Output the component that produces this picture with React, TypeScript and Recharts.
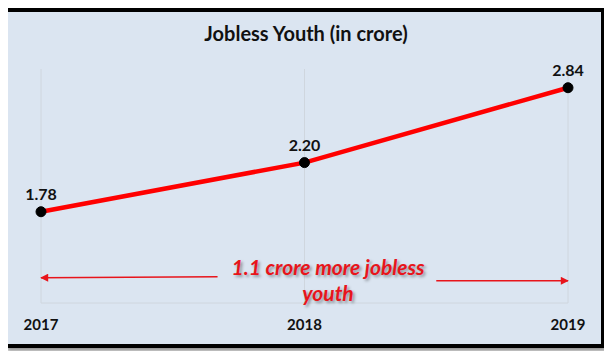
import { CartesianGrid, LabelList, Line, LineChart, ReferenceLine, XAxis, YAxis } from 'recharts'

const years = [2017, 2018, 2019]
const joblessYouth = [1.78, 2.2, 2.84]
const yDomain = [1, 3]

// arrows under the line, in data units
const leftArrow = [
  { x: 2017.67, y: 1.224 },
  { x: 2017, y: 1.216 },
]
const rightArrow = [
  { x: 2018.5, y: 1.19 },
  { x: 2019, y: 1.19 },
]

const data = years.map((year, i) => ({ year, value: joblessYouth[i] }))

const FONT = 'Lato, "Open Sans", sans-serif'

export default function App() {
  return (
    <div style={{ position: 'relative', width: 612, height: 359, margin: -8, fontFamily: FONT }}>
      <div
        style={{
          position: 'absolute',
          left: 4,
          top: 8,
          width: 601,
          height: 340,
          boxSizing: 'border-box',
          border: '4.5px solid #000',
          background: '#dbe5f1',
          boxShadow: '3px 3px 4px rgba(0,0,0,0.45)',
        }}
      />
      <div
        style={{
          position: 'absolute',
          top: 21,
          left: 0,
          width: 612,
          textAlign: 'center',
          fontWeight: 700,
          fontSize: 20,
          color: '#111',
        }}
      >
        Jobless Youth (in crore)
      </div>
      <LineChart
        width={612}
        height={359}
        data={data}
        margin={{ top: 69, right: 44, bottom: 26, left: 41 }}
        style={{ position: 'absolute', left: 0, top: 0 }}
      >
        <defs>
          <marker
            id="arrowHead"
            viewBox="0 0 10 10"
            refX="9"
            refY="5"
            markerWidth="11"
            markerHeight="8"
            markerUnits="userSpaceOnUse"
            orient="auto"
          >
            <path d="M0,0 L10,5 L0,10 z" fill="#e8141b" />
          </marker>
        </defs>
        <CartesianGrid horizontal={false} stroke="#cfd6de" />
        <XAxis
          dataKey="year"
          type="number"
          domain={[2017, 2019]}
          ticks={years}
          axisLine={{ stroke: '#cfd6de' }}
          tickLine={false}
          tickMargin={10}
          tick={{ fontSize: 15, fontWeight: 700, fill: '#111', fontFamily: FONT }}
        />
        <YAxis type="number" domain={yDomain} hide />
        <ReferenceLine
          segment={leftArrow}
          stroke="#e8141b"
          strokeWidth={1.5}
          markerEnd="url(#arrowHead)"
          ifOverflow="visible"
        />
        <ReferenceLine
          segment={rightArrow}
          stroke="#e8141b"
          strokeWidth={1.5}
          markerEnd="url(#arrowHead)"
          ifOverflow="visible"
        />
        <Line
          dataKey="value"
          stroke="#ff0000"
          strokeWidth={4.5}
          dot={{ r: 5, fill: '#000', stroke: '#000', strokeWidth: 1 }}
          activeDot={false}
          isAnimationActive={false}
        >
          <LabelList
            dataKey="value"
            position="top"
            offset={12}
            formatter={(v: number) => v.toFixed(2)}
            style={{ fontSize: 16, fontWeight: 700, fill: '#111', fontFamily: FONT }}
          />
        </Line>
      </LineChart>
      <div
        style={{
          position: 'absolute',
          left: 218,
          top: 254,
          width: 220,
          textAlign: 'center',
          fontWeight: 700,
          fontStyle: 'italic',
          fontSize: 21,
          lineHeight: '26px',
          color: '#e8141b',
          textShadow: '2px 2px 3px rgba(0,0,0,0.35)',
        }}
      >
        1.1 crore more jobless
        <br />
        youth
      </div>
    </div>
  )
}
